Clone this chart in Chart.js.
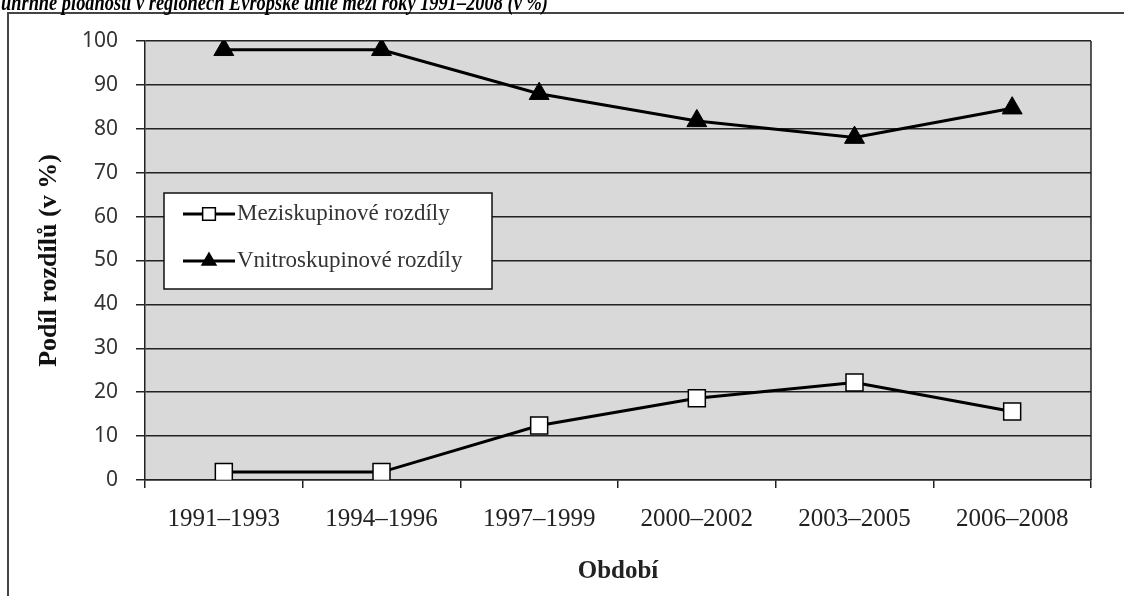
<!DOCTYPE html>
<html>
<head>
<meta charset="utf-8">
<script src="https://cdn.jsdelivr.net/npm/chart.js@4"></script>
<style>
  html, body { margin: 0; padding: 0; background: #fff; }
  #wrap { width: 1124px; height: 596px; }
</style>
</head>
<body>
<div id="wrap"><canvas id="myChart" width="1124" height="596"></canvas></div>
<script>
// data
var periods = ["1991–1993", "1994–1996", "1997–1999", "2000–2002", "2003–2005", "2006–2008"];
var meziskupinove = [1.8, 1.8, 12.4, 18.6, 22.2, 15.6];
var vnitroskupinove = [98, 98, 88, 81.8, 78, 84.7];
var yTicks = [0, 10, 20, 30, 40, 50, 60, 70, 80, 90, 100];

var captionText = "úhrnné plodnosti v regionech Evropské unie mezi roky 1991–2008 (v %)";

var frameAndBack = {
    id: "frameAndBack",
    beforeDraw: function (chart) {
        const ctx = chart.ctx;
        const a = chart.chartArea;
        ctx.save();
        ctx.fillStyle = "#fff";
        ctx.fillRect(0, 0, chart.width, chart.height);
        // outer frame
        ctx.strokeStyle = "#444";
        ctx.lineWidth = 2;
        ctx.strokeRect(8, 13, chart.width + 20, chart.height + 20);
        // caption cut off at the top
        ctx.fillStyle = "#000";
        ctx.font = "italic bold 20px 'Liberation Serif'";
        ctx.textBaseline = "alphabetic";
        ctx.textAlign = "left";
        ctx.save();
        ctx.translate(1, 10);
        ctx.scale(0.92, 1.15);
        ctx.fillText(captionText, 0, 0);
        ctx.restore();
        // plot background
        ctx.fillStyle = "#d9d9d9";
        ctx.fillRect(a.left, a.top, a.right - a.left, a.bottom - a.top);
        ctx.restore();
    },
    afterDraw: function (chart) {
        const ctx = chart.ctx;
        const a = chart.chartArea;
        ctx.save();
        ctx.strokeStyle = "#222";
        ctx.lineWidth = 1.5;
        ctx.beginPath();
        ctx.moveTo(a.right, a.top);
        ctx.lineTo(a.right, a.bottom);
        ctx.stroke();

        // legend box inside the plot
        const lx = 164, ly = 193, lw = 328, lh = 96;
        ctx.fillStyle = "#fff";
        ctx.fillRect(lx, ly, lw, lh);
        ctx.strokeStyle = "#111";
        ctx.lineWidth = 1.5;
        ctx.strokeRect(lx, ly, lw, lh);
        const rows = [214, 261];
        chart.data.datasets.forEach(function (ds, i) {
            const y = rows[i];
            ctx.strokeStyle = "#000";
            ctx.lineWidth = 3;
            ctx.beginPath();
            ctx.moveTo(183, y);
            ctx.lineTo(235, y);
            ctx.stroke();
            ctx.fillStyle = ds.pointBackgroundColor;
            ctx.strokeStyle = "#000";
            ctx.lineWidth = 1.5;
            Chart.helpers.drawPoint(ctx, {
                pointStyle: ds.pointStyle,
                radius: ds.pointStyle === "rect" ? 9 : 8,
                rotation: 0,
                borderWidth: 1.5
            }, 209, y);
            ctx.fillStyle = "#333";
            ctx.font = "23px 'Liberation Serif'";
            ctx.textBaseline = "middle";
            ctx.textAlign = "left";
            ctx.fillText(ds.label, 237, y);
        });
        ctx.restore();
    }
};

var ctx = document.getElementById("myChart").getContext("2d");
var myChart = new Chart(ctx, {
    type: "line",
    data: {
        labels: periods,
        datasets: [
            {
                label: "Meziskupinové rozdíly",
                data: meziskupinove,
                borderColor: "#000",
                borderWidth: 3,
                pointStyle: "rect",
                pointRadius: 12,
                pointBackgroundColor: "#fff",
                pointBorderColor: "#000",
                pointBorderWidth: 1.5,
                tension: 0
            },
            {
                label: "Vnitroskupinové rozdíly",
                data: vnitroskupinove,
                borderColor: "#000",
                borderWidth: 3,
                pointStyle: "triangle",
                pointRadius: 11.5,
                pointBackgroundColor: "#000",
                pointBorderColor: "#000",
                pointBorderWidth: 1,
                tension: 0
            }
        ]
    },
    options: {
        responsive: false,
        animation: false,
        layout: { padding: { top: 41, right: 33, left: 0, bottom: 0 } },
        plugins: {
            legend: { display: false },
            tooltip: { enabled: false }
        },
        scales: {
            x: {
                offset: true,
                grid: {
                    offset: true,
                    drawOnChartArea: false,
                    color: "#222",
                    lineWidth: 1.5,
                    tickLength: 8
                },
                border: { color: "#222", width: 1.5 },
                ticks: {
                    color: "#222",
                    font: { family: "'Liberation Serif'", size: 25 },
                    padding: 16,
                    maxRotation: 0
                },
                title: {
                    display: true,
                    text: "Období",
                    color: "#222",
                    font: { family: "'Liberation Serif'", size: 25, weight: "bold" },
                    padding: { top: 0, bottom: 9 }
                },
                afterFit: function (scale) { scale.height = 116; }
            },
            y: {
                min: 0,
                max: 100,
                afterBuildTicks: function (scale) {
                    scale.ticks = yTicks.map(function (v) { return { value: v }; });
                },
                grid: {
                    color: "#222",
                    lineWidth: 1.5,
                    tickLength: 9
                },
                border: { color: "#222", width: 1.5 },
                ticks: {
                    color: "#333",
                    font: { family: "'Noto Sans'", size: 21 },
                    padding: 18
                },
                title: {
                    display: true,
                    text: "Podíl rozdílů (v %)",
                    color: "#111",
                    font: { family: "'Liberation Serif'", size: 26, weight: "bold" },
                    padding: { top: 34, bottom: 0 }
                },
                afterFit: function (scale) { scale.width = 145; }
            }
        }
    },
    plugins: [frameAndBack]
});
</script>
</body>
</html>
